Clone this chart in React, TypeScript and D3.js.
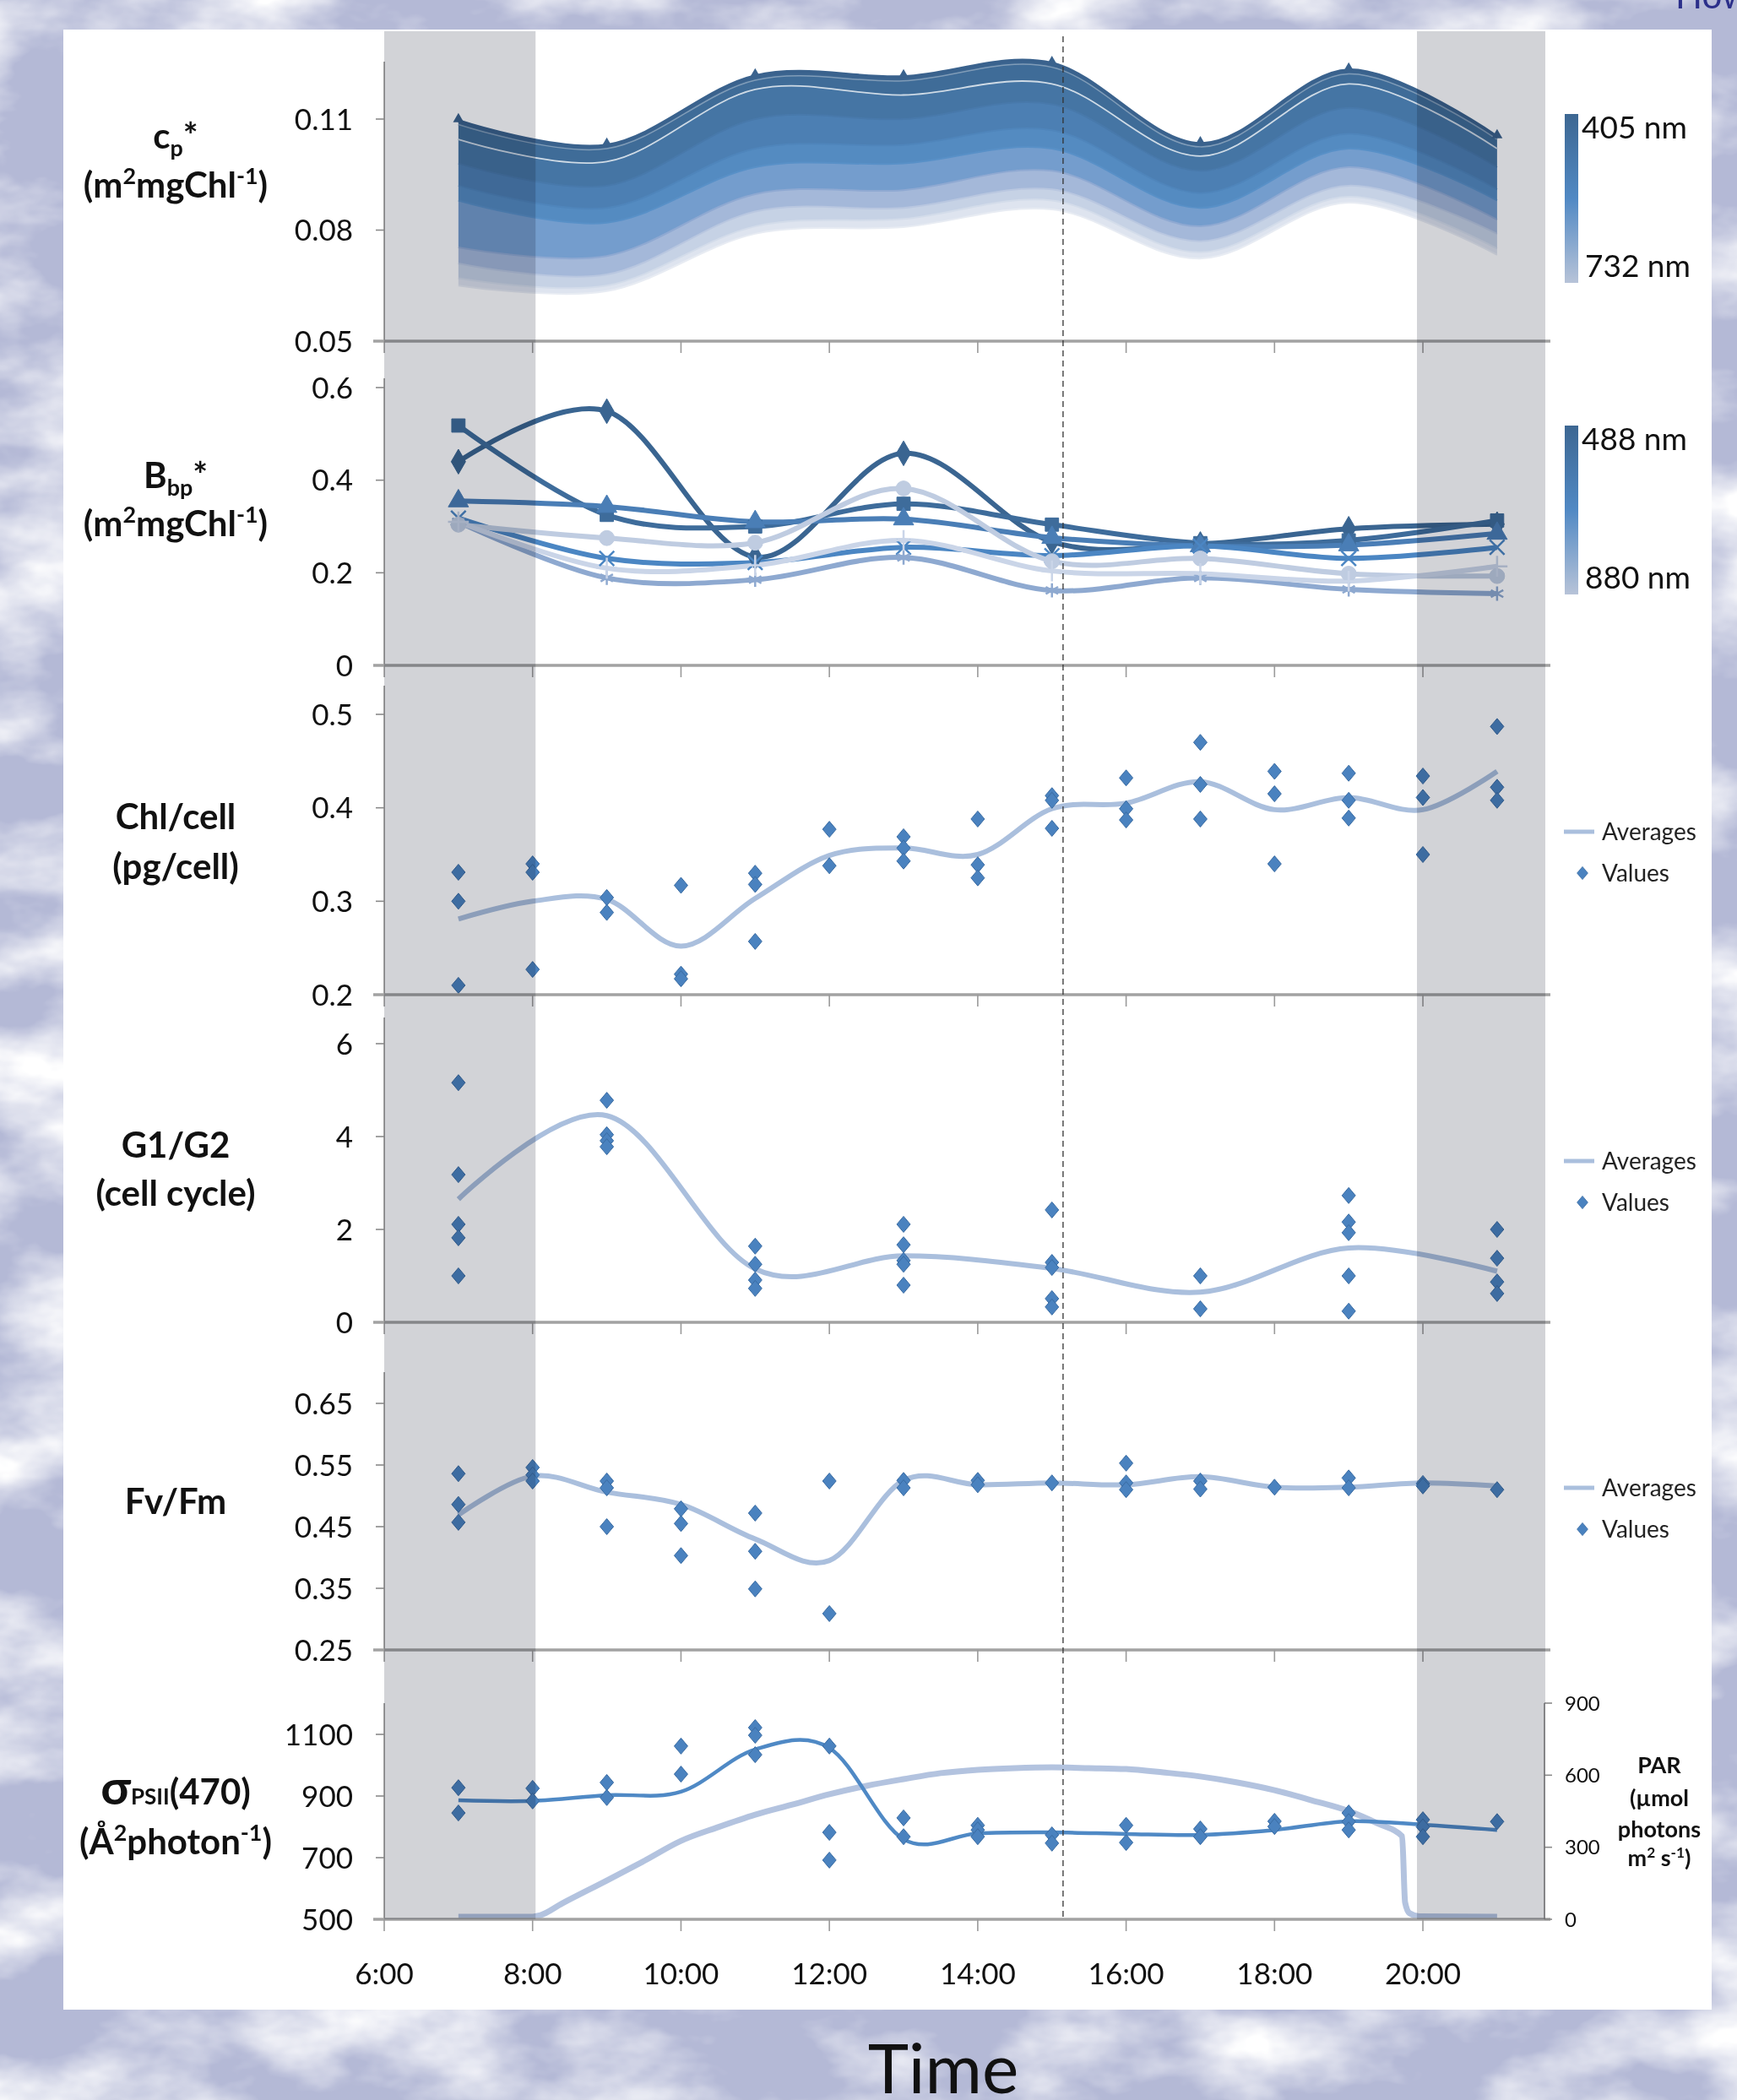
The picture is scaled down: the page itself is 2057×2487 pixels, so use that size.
import * as d3 from "d3";

// ---------- time axis ----------
const tickHours = [6, 8, 10, 12, 14, 16, 18, 20];
const tickLabels = ["6:00", "8:00", "10:00", "12:00", "14:00", "16:00", "18:00", "20:00"];
const darkStart = [6, 19.92];
const darkEnd = [8.04, 21.65];
const sunPeak = 15.15;

// ---------- cp* spectra (405 -> 732 nm) ----------
const cpHours = [7, 9, 11, 13, 15, 17, 19, 21];
const cp405 = [0.1095, 0.1029, 0.1216, 0.1214, 0.125, 0.1033, 0.1232, 0.1052];
const cp412 = [0.1085, 0.102, 0.1205, 0.1203, 0.124, 0.1025, 0.1222, 0.1045];
const cp440 = [0.1045, 0.0985, 0.118, 0.1165, 0.1195, 0.1, 0.1195, 0.102];
const cp488 = [0.098, 0.092, 0.11, 0.11, 0.114, 0.096, 0.113, 0.097];
const cp532 = [0.092, 0.086, 0.102, 0.103, 0.107, 0.09, 0.106, 0.091];
const cp555 = [0.088, 0.082, 0.097, 0.098, 0.102, 0.086, 0.102, 0.088];
const cp650 = [0.0753, 0.073, 0.0897, 0.0908, 0.096, 0.081, 0.097, 0.0828];
const cp676 = [0.071, 0.068, 0.085, 0.086, 0.091, 0.077, 0.092, 0.079];
const cp715 = [0.067, 0.065, 0.081, 0.083, 0.088, 0.074, 0.089, 0.075];
const cp732 = [0.065, 0.0635, 0.079, 0.0808, 0.0856, 0.0723, 0.0874, 0.0733];
const cpSeries = [cp405, cp412, cp440, cp488, cp532, cp555, cp650, cp676, cp715, cp732];
const cpColors = ["#3a628d", "#3d6893", "#41709d", "#4879ab", "#4f85bb", "#5890c7", "#8fa9d2", "#b9c7e0", "#d3dcea", "#e8ecf3"];
const cpTicks = [0.05, 0.08, 0.11];

// ---------- bbp* spectra (488 -> 880 nm) ----------
const bbpHours = [7, 9, 11, 13, 15, 17, 19, 21];
const bbp488 = [0.44, 0.549, 0.234, 0.458, 0.267, 0.262, 0.295, 0.305];
const bbp510 = [0.518, 0.325, 0.3, 0.349, 0.304, 0.264, 0.27, 0.313];
const bbp532 = [0.355, 0.343, 0.31, 0.316, 0.276, 0.258, 0.26, 0.285];
const bbp595 = [0.318, 0.231, 0.222, 0.255, 0.237, 0.258, 0.231, 0.255];
const bbp650 = [0.31, 0.189, 0.185, 0.233, 0.162, 0.189, 0.164, 0.155];
const bbp676 = [0.304, 0.275, 0.265, 0.382, 0.225, 0.231, 0.198, 0.193];
const bbp880 = [0.31, 0.21, 0.216, 0.27, 0.204, 0.198, 0.182, 0.214];
const bbpSeries = [bbp488, bbp510, bbp532, bbp595, bbp650, bbp676, bbp880];
const bbpColors = ["#3a6591", "#3e6c9b", "#4a7eb6", "#4b86c3", "#8ea9d0", "#bfcce1", "#cad5e8"];
const bbpMarkers = ["diamond", "square", "triangle", "x", "asterisk", "circle", "plus"];
const bbpTicks = [0, 0.2, 0.4, 0.6];

// ---------- Chl/cell ----------
const hourly = [7, 8, 9, 10, 11, 12, 13, 14, 15, 16, 17, 18, 19, 20, 21];
const chlValues = [
  [0.331, 0.3, 0.21], [0.34, 0.331, 0.227], [0.304, 0.288], [0.317, 0.222, 0.217],
  [0.33, 0.318, 0.257], [0.377, 0.338], [0.369, 0.357, 0.343], [0.388, 0.339, 0.325],
  [0.413, 0.408, 0.378], [0.432, 0.399, 0.387], [0.47, 0.425, 0.388], [0.439, 0.415, 0.34],
  [0.437, 0.408, 0.389], [0.434, 0.411, 0.35], [0.487, 0.422, 0.408],
];
const chlAverages = [0.281, 0.3, 0.302, 0.252, 0.303, 0.349, 0.357, 0.35, 0.399, 0.405, 0.428, 0.398, 0.411, 0.398, 0.439];
const chlTicks = [0.2, 0.3, 0.4, 0.5];

// ---------- G1/G2 ----------
const g12Hours = [7, 9, 11, 13, 15, 17, 19, 21];
const g12Values = [
  [5.16, 3.18, 2.11, 1.82, 1.0], [4.78, 4.04, 3.91, 3.78], [1.64, 1.25, 0.91, 0.73],
  [2.11, 1.67, 1.33, 1.25, 0.8], [2.42, 1.29, 1.18, 0.51, 0.33], [1.0, 0.29],
  [2.73, 2.16, 1.93, 1.0, 0.24], [2.0, 1.38, 0.87, 0.62],
];
const g12Averages = [2.65, 4.45, 1.15, 1.43, 1.16, 0.65, 1.6, 1.1];
const g12Ticks = [0, 2, 4, 6];

// ---------- Fv/Fm ----------
const fvValues = [
  [0.536, 0.486, 0.457], [0.546, 0.534, 0.524], [0.524, 0.513, 0.45], [0.479, 0.455, 0.403],
  [0.472, 0.41, 0.349], [0.524, 0.309], [0.525, 0.513], [0.525, 0.518], [0.521],
  [0.553, 0.521, 0.51], [0.524, 0.511], [0.514], [0.529, 0.513], [0.52, 0.516], [0.51],
];
const fvAverages = [0.469, 0.532, 0.506, 0.486, 0.43, 0.395, 0.525, 0.518, 0.521, 0.518, 0.531, 0.514, 0.514, 0.521, 0.516];
const fvTicks = [0.25, 0.35, 0.45, 0.55, 0.65];

// ---------- sigma PSII and PAR ----------
const sigmaValues = [
  [927, 845], [925, 884], [944, 895], [1062, 971], [1122, 1097, 1034], [1062, 782, 692],
  [829, 768], [805, 790, 768], [774, 747], [805, 749], [793, 768], [818, 801],
  [845, 817, 790], [823, 800, 768], [817],
];
const sigmaAverages = [886, 884, 903, 914, 1051, 1056, 760, 779, 782, 777, 774, 790, 818, 807, 790];
const sigmaTicks = [500, 700, 900, 1100];
const parHours = [7, 8, 8.1, 8.4, 9, 9.5, 10, 10.5, 11, 11.5, 12, 12.5, 13, 13.5, 14, 14.5, 15, 15.5, 16, 16.5, 17, 17.5, 18, 18.5, 19, 19.4, 19.72, 19.76, 19.82, 19.95, 21];
const parValues = [0, 0, 6, 56, 151, 232, 316, 373, 425, 467, 510, 545, 573, 598, 612, 619, 622, 619, 615, 601, 584, 559, 527, 485, 440, 387, 335, 60, 15, 2, 0];
const parTicks = [0, 300, 600, 900];

// ---------- layout ----------
const W = 2057;
const H = 2487;
const FONT = "Lato, 'Open Sans', sans-serif";
const AX = 455;
const x = d3.scaleLinear().domain([6, 21.65]).range([AX, 1830]);
const yCp = d3.scaleLinear().domain([0.05, 0.11]).range([404, 141]);
const yBbp = d3.scaleLinear().domain([0, 0.6]).range([788, 459]);
const yChl = d3.scaleLinear().domain([0.2, 0.5]).range([1178, 846]);
const yG = d3.scaleLinear().domain([0, 6]).range([1566, 1236]);
const yFv = d3.scaleLinear().domain([0.25, 0.65]).range([1954, 1662]);
const ySig = d3.scaleLinear().domain([500, 1100]).range([2273, 2054]);
const yPar = d3.scaleLinear().domain([0, 900]).range([2273, 2017]);

const smooth = d3.curveCardinal.tension(0);
const avgColor = "#aabfdd";
const dotFill = "#4a82bf";
const dotStroke = "#3a6ca3";
const diamondPath = "M0,-9.5L8,0L0,9.5L-8,0Z";

const symbolOf = (name: string) => {
  const s: any = d3;
  switch (name) {
    case "diamond": return d3.symbolDiamond;
    case "square": return d3.symbolSquare;
    case "triangle": return d3.symbolTriangle;
    case "x": return s.symbolTimes || s.symbolX || d3.symbolCross;
    case "asterisk": return s.symbolAsterisk || d3.symbolStar;
    case "circle": return d3.symbolCircle;
    default: return s.symbolPlus || d3.symbolCross;
  }
};
const strokedMarker = (name: string) => name === "x" || name === "asterisk" || name === "plus";

// text with sub/superscripts: parts are [text, "n" | "sup" | "sub"]
const rich = (parts: [string, string][], size: number) => {
  let cur = 0;
  return parts.map(([t, k], i) => {
    const target = k === "sup" ? -0.38 * size : k === "sub" ? 0.22 * size : 0;
    const dy = target - cur;
    cur = target;
    return (
      <tspan key={i} dy={dy} fontSize={k === "n" ? size : size * 0.64}>{t}</tspan>
    );
  });
};

function LeftAxis({ y, ticks, top, fmt }: any) {
  const bottom = y.range()[0];
  return (
    <g>
      <line x1={AX} x2={AX} y1={top} y2={bottom} stroke="#8a8a8a" strokeWidth={1.6} />
      {ticks.map((t: number) => (
        <g key={t}>
          <line x1={AX - 10} x2={AX} y1={y(t)} y2={y(t)} stroke="#8a8a8a" strokeWidth={1.6} />
          <text x={418} y={y(t)} dy="0.36em" textAnchor="end" fontSize={35} fill="#111">{fmt(t)}</text>
        </g>
      ))}
      <line x1={AX - 13} x2={1836} y1={bottom} y2={bottom} stroke="#a2a2a2" strokeWidth={3.5} />
      {tickHours.map((h) => (
        <line key={h} x1={x(h)} x2={x(h)} y1={bottom} y2={bottom + 14} stroke="#9a9a9a" strokeWidth={1.6} />
      ))}
    </g>
  );
}

function Dots({ hours, values, y }: any) {
  return (
    <g>
      {values.map((vals: number[], i: number) =>
        vals.map((v, j) => (
          <path key={i + "-" + j} d={diamondPath} transform={`translate(${x(hours[i])},${y(v)})`}
            fill={dotFill} stroke={dotStroke} strokeWidth={1} />
        ))
      )}
    </g>
  );
}

function AvgLegend({ y0 }: { y0: number }) {
  return (
    <g fontSize={28} fill="#222">
      <line x1={1852} x2={1888} y1={y0} y2={y0} stroke={avgColor} strokeWidth={5} />
      <text x={1897} y={y0} dy="0.35em">Averages</text>
      <path d={diamondPath} transform={`translate(1874,${y0 + 49}) scale(0.8)`} fill={dotFill} stroke={dotStroke} />
      <text x={1897} y={y0 + 49} dy="0.35em">Values</text>
    </g>
  );
}

function ColorBar({ top, id, hi, lo }: any) {
  return (
    <g fontSize={37} fill="#111">
      <rect x={1853} y={top} width={16} height={200} fill={`url(#${id})`} />
      <text x={1873} y={top + 16} dy="0.35em">{hi}</text>
      <text x={1877} y={top + 180} dy="0.35em">{lo}</text>
    </g>
  );
}

export default function App() {
  const cpArea = (hi: number[], lo: number[]) =>
    d3.area<number>().x((_, i) => x(cpHours[i])).y0((_, i) => yCp(lo[i])).y1((d) => yCp(d)).curve(smooth)(hi) as string;
  const cpLine = (s: number[]) => d3.line<number>().x((_, i) => x(cpHours[i])).y((d) => yCp(d)).curve(smooth)(s) as string;
  const lineOf = (hours: number[], vals: number[], y: any, curve: any = smooth) =>
    d3.line<number>().x((_, i) => x(hours[i])).y((d) => y(d)).curve(curve)(vals) as string;

  return (
    <svg width={W} height={H} style={{ position: "absolute", left: 0, top: 0 }} fontFamily={FONT}>
      <defs>
        <filter id="clouds" x="0" y="0" width="100%" height="100%">
          <feTurbulence type="fractalNoise" baseFrequency="0.005 0.009" numOctaves={5} seed={11} />
          <feColorMatrix type="matrix" values="0 0 0 0 1  0 0 0 0 1  0 0 0 0 1  0 0 0 2.6 -1.05" />
        </filter>
        <linearGradient id="cbar1" x1="0" y1="0" x2="0" y2="1">
          <stop offset="0" stopColor="#3d6792" />
          <stop offset="0.5" stopColor="#5189c4" />
          <stop offset="1" stopColor="#b7c3d8" />
        </linearGradient>
        <linearGradient id="cbar2" x1="0" y1="0" x2="0" y2="1">
          <stop offset="0" stopColor="#3d6792" />
          <stop offset="0.5" stopColor="#5189c4" />
          <stop offset="1" stopColor="#b7c3d8" />
        </linearGradient>
      </defs>

      {/* background */}
      <rect width={W} height={H} fill="#b4b9d6" />
      <rect width={W} height={H} filter="url(#clouds)" />
      <text x={1984} y={10} fontSize={42} fill="#2b2f8a">Howe</text>
      <rect x={75} y={35} width={1952} height={2345} fill="#ffffff" />

      {/* cp* band */}
      <g>
        {cpSeries.slice(0, -1).map((s, i) => (
          <path key={i} d={cpArea(s, cpSeries[i + 1])} fill={d3.interpolateRgb(cpColors[i], cpColors[i + 1])(0.5)} />
        ))}
        {cpSeries.map((s, i) => (
          <path key={"l" + i} d={cpLine(s)} fill="none" stroke={cpColors[i]} strokeWidth={i === 0 ? 4 : 2} />
        ))}
        <path d={cpLine(cp412)} fill="none" stroke="#ffffff" strokeOpacity={0.35} strokeWidth={1.5} />
        <path d={cpLine(cp440)} fill="none" stroke="#ffffff" strokeOpacity={0.75} strokeWidth={1.8} />
        {cp405.map((v, i) => (
          <path key={"t" + i} d={d3.symbol().type(d3.symbolTriangle).size(70)() as string}
            transform={`translate(${x(cpHours[i])},${yCp(v) - 2})`} fill="#3a628d" />
        ))}
      </g>

      {/* bbp* lines */}
      <g>
        {bbpSeries.map((s, k) => (
          <path key={k} d={lineOf(bbpHours, s, yBbp)} fill="none" stroke={bbpColors[k]} strokeWidth={6} />
        ))}
        {bbpSeries.map((s, k) =>
          s.map((v, i) => {
            const m = bbpMarkers[k];
            const stroked = strokedMarker(m);
            const p = d3.symbol().type(symbolOf(m)).size(stroked ? 200 : 250)() as string;
            return (
              <path key={k + "-" + i} d={p} transform={`translate(${x(bbpHours[i])},${yBbp(v)})`}
                fill={stroked ? "none" : bbpColors[k]} stroke={bbpColors[k]} strokeWidth={stroked ? 2.5 : 1} />
            );
          })
        )}
      </g>

      {/* Chl/cell */}
      <path d={lineOf(hourly, chlAverages, yChl)} fill="none" stroke={avgColor} strokeWidth={6} />
      <Dots hours={hourly} values={chlValues} y={yChl} />

      {/* G1/G2 */}
      <path d={lineOf(g12Hours, g12Averages, yG)} fill="none" stroke={avgColor} strokeWidth={6} />
      <Dots hours={g12Hours} values={g12Values} y={yG} />

      {/* Fv/Fm */}
      <path d={lineOf(hourly, fvAverages, yFv)} fill="none" stroke={avgColor} strokeWidth={6} />
      <Dots hours={hourly} values={fvValues} y={yFv} />

      {/* sigma + PAR */}
      <path d={lineOf(parHours, parValues, yPar, d3.curveMonotoneX)} fill="none" stroke="#b3c3df" strokeWidth={7}
        transform="translate(0,-3)" />
      <path d={lineOf(hourly, sigmaAverages, ySig)} fill="none" stroke="#4f89c5" strokeWidth={4.5} />
      <Dots hours={hourly} values={sigmaValues} y={ySig} />

      {/* axes */}
      <LeftAxis y={yCp} ticks={cpTicks} top={73} fmt={(t: number) => t.toFixed(2)} />
      <LeftAxis y={yBbp} ticks={bbpTicks} top={448} fmt={(t: number) => (t === 0 ? "0" : t.toFixed(1))} />
      <LeftAxis y={yChl} ticks={chlTicks} top={812} fmt={(t: number) => t.toFixed(1)} />
      <LeftAxis y={yG} ticks={g12Ticks} top={1205} fmt={(t: number) => String(t)} />
      <LeftAxis y={yFv} ticks={fvTicks} top={1625} fmt={(t: number) => t.toFixed(2)} />
      <LeftAxis y={ySig} ticks={sigmaTicks} top={2017} fmt={(t: number) => String(t)} />

      {/* PAR right axis */}
      <g>
        <line x1={1829} x2={1829} y1={yPar(900)} y2={yPar(0)} stroke="#8a8a8a" strokeWidth={1.6} />
        {parTicks.map((t) => (
          <g key={t}>
            <line x1={1829} x2={1838} y1={yPar(t)} y2={yPar(t)} stroke="#8a8a8a" strokeWidth={1.6} />
            <text x={1853} y={yPar(t)} dy="0.36em" fontSize={24} fill="#111">{t}</text>
          </g>
        ))}
        <g fontSize={27} fontWeight="bold" textAnchor="middle" fill="#111">
          <text x={1965} y={2090} dy="0.36em">PAR</text>
          <text x={1965} y={2129} dy="0.36em">(µmol</text>
          <text x={1965} y={2166} dy="0.36em">photons</text>
          <text x={1965} y={2210}>{rich([["m", "n"], ["2", "sup"], [" s", "n"], ["-1", "sup"], [")", "n"]], 27)}</text>
        </g>
      </g>

      {/* night shading */}
      {darkStart.map((s, i) => (
        <rect key={i} x={x(s)} y={37} width={x(darkEnd[i]) - x(s)} height={2273 - 37}
          fill="#d2d3d7" style={{ mixBlendMode: "multiply" }} />
      ))}
      <line x1={x(sunPeak)} x2={x(sunPeak)} y1={43} y2={2273} stroke="#333" strokeWidth={1.3} strokeDasharray="7 5" />

      {/* x tick labels */}
      {tickHours.map((h, i) => (
        <text key={h} x={x(h)} y={2350} textAnchor="middle" fontSize={35} fill="#111">{tickLabels[i]}</text>
      ))}
      <text x={1117} y={2479} textAnchor="middle" fontSize={82} fill="#111">Time</text>

      {/* legends */}
      <ColorBar top={135} id="cbar1" hi="405 nm" lo="732 nm" />
      <ColorBar top={504} id="cbar2" hi="488 nm" lo="880 nm" />
      <AvgLegend y0={985} />
      <AvgLegend y0={1375} />
      <AvgLegend y0={1762} />

      {/* panel titles */}
      <g fontSize={42} fontWeight="bold" textAnchor="middle" fill="#111">
        <text x={208} y={176}>{rich([["c", "n"], ["p", "sub"], ["*", "n"]], 42)}</text>
        <text x={208} y={234}>{rich([["(m", "n"], ["2", "sup"], ["mgChl", "n"], ["-1", "sup"], [")", "n"]], 42)}</text>
        <text x={208} y={578}>{rich([["B", "n"], ["bp", "sub"], ["*", "n"]], 42)}</text>
        <text x={208} y={635}>{rich([["(m", "n"], ["2", "sup"], ["mgChl", "n"], ["-1", "sup"], [")", "n"]], 42)}</text>
        <text x={208} y={982}>Chl/cell</text>
        <text x={208} y={1041}>(pg/cell)</text>
        <text x={208} y={1371}>G1/G2</text>
        <text x={208} y={1428}>(cell cycle)</text>
        <text x={208} y={1793}>Fv/Fm</text>
        <text x={208} y={2137}><tspan fontSize={58}>σ</tspan><tspan fontSize={26}>PSII</tspan>(470)</text>
        <text x={208} y={2196}>{rich([["(Å", "n"], ["2", "sup"], ["photon", "n"], ["-1", "sup"], [")", "n"]], 42)}</text>
      </g>
    </svg>
  );
}
